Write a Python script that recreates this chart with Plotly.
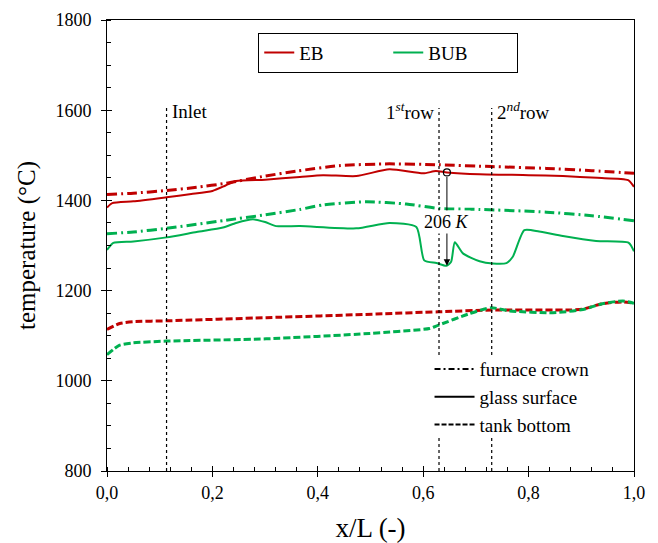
import numpy as np
import plotly.graph_objects as go

# ---------------- data ----------------
eb_crown_x = [0.0, 0.05, 0.113, 0.17, 0.226, 0.30, 0.36, 0.44, 0.536, 0.63, 0.73, 0.834, 0.92, 1.0]
eb_crown_t = [1413, 1416, 1422, 1429, 1438, 1454, 1465, 1477, 1481, 1479, 1475, 1471, 1466, 1460]

eb_surf_x = [0.0, 0.01, 0.05, 0.113, 0.16, 0.20, 0.225, 0.245, 0.30, 0.366, 0.41, 0.473, 0.536,
             0.60, 0.624, 0.645, 0.707, 0.80, 0.865, 0.93, 0.989, 1.0]
eb_surf_t = [1384, 1394, 1398, 1407, 1414, 1421, 1433, 1443, 1446, 1452, 1456, 1454, 1469,
             1460, 1465, 1462, 1458, 1456, 1454, 1450, 1445, 1430]

bub_crown_x = [0.0, 0.05, 0.113, 0.226, 0.30, 0.366, 0.41, 0.492, 0.568, 0.631, 0.707, 0.834, 0.92, 1.0]
bub_crown_t = [1326, 1330, 1338, 1356, 1368, 1380, 1390, 1397, 1392, 1382, 1380, 1374, 1366, 1355]

bub_surf_x = [0.0, 0.012, 0.05, 0.113, 0.17, 0.22, 0.245, 0.277, 0.30, 0.321, 0.366, 0.473, 0.536,
              0.587, 0.602, 0.625, 0.644, 0.653, 0.66, 0.676, 0.707, 0.732, 0.758, 0.77, 0.792,
              0.82, 0.865, 0.928, 0.99, 1.0]
bub_surf_t = [1290, 1306, 1309, 1318, 1330, 1340, 1350, 1358, 1352, 1343, 1343, 1338, 1350,
              1341, 1267, 1261, 1255, 1264, 1307, 1282, 1265, 1260, 1261, 1275, 1334,
              1331, 1321, 1310, 1306, 1287]

eb_bot_x = [0.0, 0.024, 0.049, 0.113, 0.302, 0.511, 0.628, 0.732, 0.877, 0.903, 0.94, 0.979, 1.0]
eb_bot_t = [1114, 1127, 1131, 1133, 1140, 1148, 1153, 1157, 1157, 1159, 1171, 1175, 1172]

bub_bot_x = [0.0, 0.024, 0.049, 0.113, 0.302, 0.498, 0.612, 0.628, 0.688, 0.729, 0.764, 0.846,
             0.903, 0.94, 0.979, 1.0]
bub_bot_t = [1058, 1079, 1084, 1088, 1093, 1105, 1116, 1123, 1149, 1162, 1155, 1151,
             1158, 1171, 1177, 1172]

x_tick_vals = [0.0, 0.2, 0.4, 0.6, 0.8, 1.0]
x_tick_labels = ["0,0", "0,2", "0,4", "0,6", "0,8", "1,0"]
y_tick_vals = [800, 1000, 1200, 1400, 1600, 1800]
y_tick_labels = ["800", "1000", "1200", "1400", "1600", "1800"]

guide_x = [0.113, 0.63, 0.73]
guide_labels = ["Inlet", "1<sup><i>st</i></sup>row", "2<sup><i>nd</i></sup>row"]

delta_x = 0.645
delta_top = 1462
delta_bottom = 1255
delta_label = "206 <i>K</i>"

RED = "#c00000"
GREEN = "#00b050"
FONT = "Liberation Serif"

CROWN_DASH = "10px,4px,2px,4px"
BOT_DASH = "7px,3px"

fig = go.Figure()

def add(x, y, color, dash, width):
    fig.add_trace(go.Scatter(x=x, y=y, mode="lines",
                             line=dict(color=color, dash=dash, width=width, shape="spline", smoothing=0.6),
                             showlegend=False, hoverinfo="skip"))

add(eb_crown_x, eb_crown_t, RED, CROWN_DASH, 3)
add(bub_crown_x, bub_crown_t, GREEN, CROWN_DASH, 3)
add(eb_surf_x, eb_surf_t, RED, "solid", 2)
add(bub_surf_x, bub_surf_t, GREEN, "solid", 2)
add(eb_bot_x, eb_bot_t, RED, BOT_DASH, 3)
add(bub_bot_x, bub_bot_t, GREEN, BOT_DASH, 3)

# marker at arrow start
fig.add_trace(go.Scatter(x=[delta_x], y=[delta_top], mode="markers",
                         marker=dict(symbol="circle-open", size=7, color="black", line=dict(width=1.2)),
                         showlegend=False, hoverinfo="skip"))

# legend 1 (series)
fig.add_trace(go.Scatter(x=[None], y=[None], mode="lines", name="EB",
                         line=dict(color=RED, width=2), legend="legend"))
fig.add_trace(go.Scatter(x=[None], y=[None], mode="lines", name="BUB",
                         line=dict(color=GREEN, width=2), legend="legend"))
# legend 2 (line styles)
fig.add_trace(go.Scatter(x=[None], y=[None], mode="lines", name="furnace crown",
                         line=dict(color="black", width=2, dash="6px,3px,2px,3px"), legend="legend2"))
fig.add_trace(go.Scatter(x=[None], y=[None], mode="lines", name="glass surface",
                         line=dict(color="black", width=2), legend="legend2"))
fig.add_trace(go.Scatter(x=[None], y=[None], mode="lines", name="tank bottom",
                         line=dict(color="black", width=2, dash="5px,2px"), legend="legend2"))

# overlay axes trace to draw inner half of major ticks
fig.add_trace(go.Scatter(x=[None], y=[None], xaxis="x2", yaxis="y2", showlegend=False))

# vertical guide lines
guide_top = 1605
gap_hi, gap_lo = 1057, 875
shapes = []
for i, gx in enumerate(guide_x):
    if i == 0:
        segs = [(800, guide_top)]
    else:
        segs = [(gap_hi, guide_top), (800, gap_lo)]
    for a, b in segs:
        shapes.append(dict(type="line", xref="x", yref="y", x0=gx, x1=gx, y0=a, y1=b,
                           line=dict(color="black", width=1.2, dash="dot")))

annotations = []
anchors = ["left", "right", "left"]
shifts = [3, -3, 3]
for gx, lab, an, sh in zip(guide_x, guide_labels, anchors, shifts):
    annotations.append(dict(x=gx, y=1598, xref="x", yref="y", text=lab, showarrow=False,
                            xanchor=an, yanchor="middle", xshift=sh,
                            font=dict(family=FONT, size=19, color="black")))

annotations.append(dict(x=delta_x, y=delta_bottom, ax=delta_x, ay=delta_top, xref="x", yref="y",
                        axref="x", ayref="y", text="", showarrow=True, arrowhead=2, arrowsize=1.3,
                        arrowwidth=1, arrowcolor="black", standoff=0, startstandoff=3))
annotations.append(dict(x=delta_x, y=1352, xref="x", yref="y", text=delta_label, showarrow=False,
                        bgcolor="white", font=dict(family=FONT, size=18, color="black")))

axis_common = dict(showgrid=False, zeroline=False, showline=True, linecolor="black", linewidth=1,
                   mirror=True, ticks="outside", ticklen=5, tickcolor="black", tickwidth=1,
                   automargin=False)

fig.update_layout(
    width=658, height=543,
    margin=dict(l=107, r=24, t=20, b=72),
    paper_bgcolor="white", plot_bgcolor="white",
    font=dict(family=FONT, color="black", size=18),
    xaxis=dict(range=[0, 1], tickmode="array", tickvals=x_tick_vals, ticktext=x_tick_labels,
               tickfont=dict(size=18),
               minor=dict(tickmode="array", tickvals=list(np.round(np.arange(0, 1.0001, 0.04), 3)),
                          ticks="inside", ticklen=4, tickcolor="black"),
               title=dict(text="x/L (-)", font=dict(size=27), standoff=17),
               **axis_common),
    yaxis=dict(range=[800, 1800], tickmode="array", tickvals=y_tick_vals, ticktext=y_tick_labels,
               tickfont=dict(size=18), ticklabelstandoff=6,
               minor=dict(tickmode="array", tickvals=list(range(800, 1801, 50)),
                          ticks="inside", ticklen=4, tickcolor="black"),
               title=dict(text="temperature (°C)", font=dict(size=25), standoff=12),
               **axis_common),
    xaxis2=dict(range=[0, 1], overlaying="x", anchor="y", side="bottom", tickmode="array",
                tickvals=x_tick_vals, ticks="inside", ticklen=5, tickcolor="black",
                showticklabels=False, showgrid=False, zeroline=False, showline=False),
    yaxis2=dict(range=[800, 1800], overlaying="y", anchor="x", side="left", tickmode="array",
                tickvals=y_tick_vals, ticks="inside", ticklen=5, tickcolor="black",
                showticklabels=False, showgrid=False, zeroline=False, showline=False),
    legend=dict(x=0.287, y=0.972, xanchor="left", yanchor="top", orientation="h",
                bordercolor="black", borderwidth=1, bgcolor="white",
                font=dict(family=FONT, size=19), entrywidth=84, entrywidthmode="pixels"),
    legend2=dict(x=0.612, y=0.268, xanchor="left", yanchor="top", orientation="v",
                 bgcolor="rgba(0,0,0,0)", font=dict(family=FONT, size=19), tracegroupgap=0,
                 itemwidth=40),
    shapes=shapes,
    annotations=annotations,
)

fig.write_html("out.html")
